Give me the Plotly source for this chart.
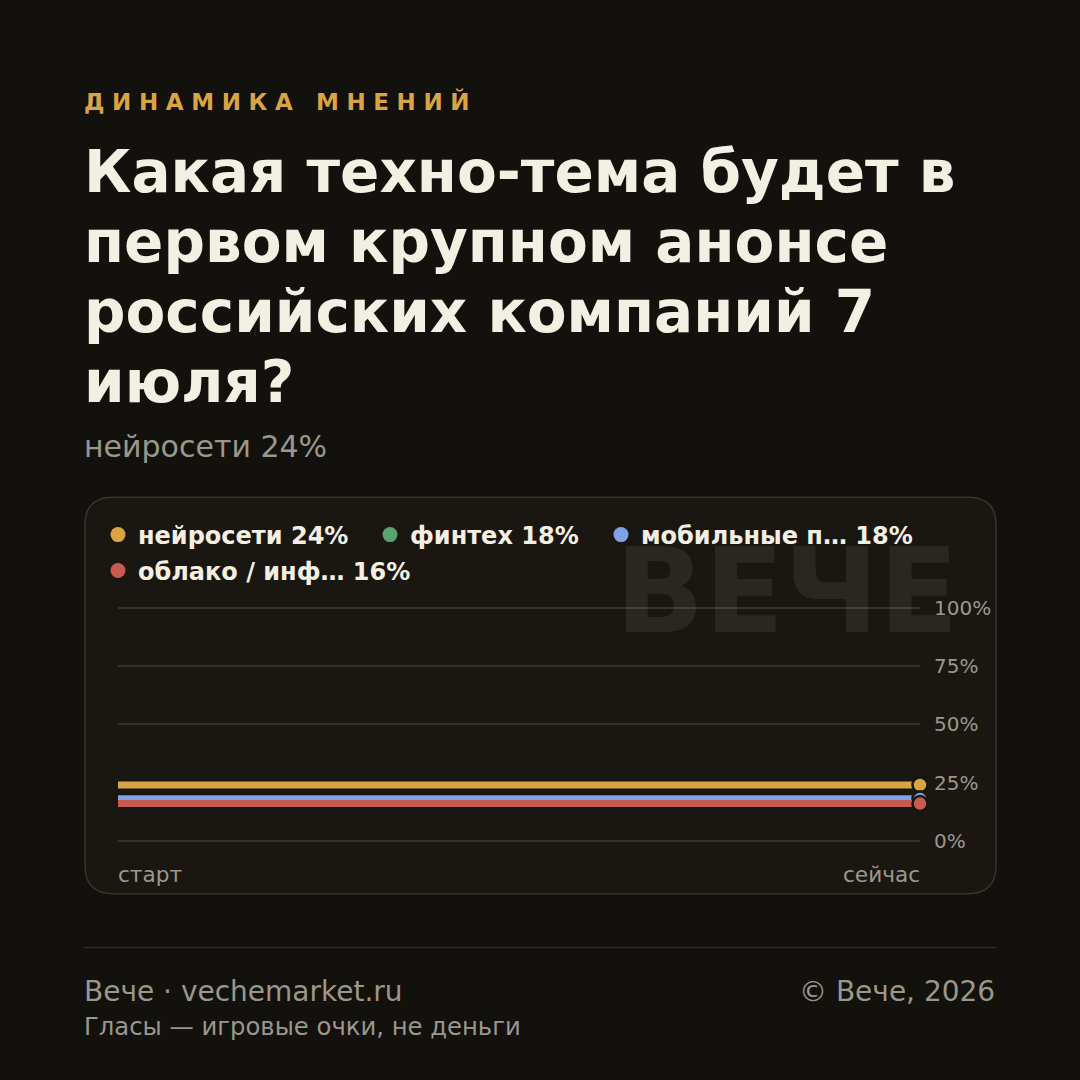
import plotly.graph_objects as go

# ---- data ----
categories = ["нейросети", "финтех", "мобильные п…", "облако / инф…"]
values_pct = [24, 18, 18, 16]
x_points = [0, 1]
x_labels = ["старт", "сейчас"]
series_colors = ["#d9a441", "#5aa36e", "#7fa3e3", "#c75b4e"]
y_ticks = [0, 25, 50, 75, 100]
y_tick_labels = ["0%", "25%", "50%", "75%", "100%"]

kicker = "ДИНАМИКА МНЕНИЙ"
title_lines = ["Какая техно-тема будет в", "первом крупном анонсе",
               "российских компаний 7", "июля?"]
subtitle = "нейросети 24%"
footer_left = "Вече · vechemarket.ru"
footer_right = "© Вече, 2026"
footer_note = "Гласы — игровые очки, не деньги"
watermark = "ВЕЧЕ"

W = H = 1080
BG = "#12110e"
CARD = "#1a1713"
CARD_BORDER = "#38332b"
GRID = "#36322b"
TEXT = "#f3efe2"
GRAY = "#9b978b"
FONT = "DejaVu Sans"


def px(x):
    return x / W


def py(y):
    return 1 - y / H


fig = go.Figure()

# series lines with end markers
for name, v, c in zip(categories, values_pct, series_colors):
    fig.add_trace(go.Scatter(
        x=x_points, y=[v] * len(x_points), mode="lines+markers",
        line=dict(color=c, width=7),
        marker=dict(size=15, color=c, opacity=[0, 1],
                    line=dict(color=CARD, width=2.5)),
        cliponaxis=False, showlegend=False, hoverinfo="skip",
    ))

# legend entries (one legend each for precise placement)
legend_pos = [(121, 535), (393, 535), (624, 535), (121, 571)]
legend_keys = ["legend", "legend2", "legend3", "legend4"]
for name, v, c, key in zip(categories, values_pct, series_colors, legend_keys):
    fig.add_trace(go.Scatter(
        x=[None], y=[None], mode="markers",
        marker=dict(size=15, color=c),
        name=f"{name} {v}%", legend=key, showlegend=True,
    ))

legend_layouts = {}
for (cx, cy), key in zip(legend_pos, legend_keys):
    legend_layouts[key] = dict(
        x=px(cx - 23), y=py(cy), xanchor="left", yanchor="middle",
        bgcolor="rgba(0,0,0,0)", borderwidth=0,
        font=dict(family=FONT, size=24, color=TEXT, weight=700),
        itemwidth=30,
    )

# card
x0, x1, y0, y1, r = 85, 996, 497, 895, 28
path = (f"M {px(x0 + r)},{py(y0)} L {px(x1 - r)},{py(y0)} "
        f"Q {px(x1)},{py(y0)} {px(x1)},{py(y0 + r)} "
        f"L {px(x1)},{py(y1 - r)} Q {px(x1)},{py(y1)} {px(x1 - r)},{py(y1)} "
        f"L {px(x0 + r)},{py(y1)} Q {px(x0)},{py(y1)} {px(x0)},{py(y1 - r)} "
        f"L {px(x0)},{py(y0 + r)} Q {px(x0)},{py(y0)} {px(x0 + r)},{py(y0)} Z")
shapes = [
    dict(type="path", path=path, xref="paper", yref="paper",
         fillcolor=CARD, line=dict(color=CARD_BORDER, width=1.5), layer="below"),
    dict(type="line", xref="paper", yref="paper", x0=px(84), x1=px(996),
         y0=py(949), y1=py(949), line=dict(color="#2e2a24", width=1.5)),
]

annotations = []
K = 0.36  # cap-centre offset (em) from baseline


def txt(text, x, y, size, color, weight=400, xanchor="left", xref="paper"):
    annotations.append(dict(
        text=text, x=x, y=y, xref=xref, yref="paper",
        xanchor=xanchor, yanchor="middle", showarrow=False,
        font=dict(family=FONT, size=size, color=color, weight=weight),
    ))


# watermark
txt(watermark, px(961), py(634 - K * 117), 117,
    "rgba(255,245,225,0.07)", 700, "right")

# header
txt(f'<span style="letter-spacing:7.6px">{kicker}</span>', px(82),
    py(108 - K * 23), 23, "#d9a441", 700)
for i, line in enumerate(title_lines):
    txt(line, px(82), py(192 + 70 * i - K * 58), 58, TEXT, 700)
txt(subtitle, px(82), py(457 - K * 30), 30, GRAY)

# x labels
for xv, lab, anc, sh in zip(x_points, x_labels, ["left", "right"], [-2, 2]):
    annotations.append(dict(text=lab, x=xv, xref="x", y=py(884 - K * 21.6),
                            yref="paper", xanchor=anc, yanchor="middle",
                            xshift=sh, showarrow=False,
                            font=dict(family=FONT, size=21.6, color=GRAY)))

# footer
txt(footer_left, px(82), py(1003 - K * 28), 28, GRAY)
txt(footer_right, px(997), py(1003 - K * 28), 28, GRAY, 400, "right")
txt(footer_note, px(82), py(1037 - K * 24.3), 24.3, GRAY)

# y axis: 0 at row 842, 100 at row 608; extend domain slightly so 100% grid shows
Y0_ROW, Y100_ROW = 842, 608
top_row, bot_row = 598, 852
per = (Y0_ROW - Y100_ROW) / 100.0
r_max = (Y0_ROW - top_row) / per
r_min = -(bot_row - Y0_ROW) / per

fig.update_layout(
    width=W, height=H, autosize=False,
    margin=dict(l=0, r=0, t=0, b=0),
    paper_bgcolor=BG, plot_bgcolor="rgba(0,0,0,0)",
    shapes=shapes, annotations=annotations,
    xaxis=dict(domain=[px(118), px(920)], range=[0, 1], showgrid=False,
               zeroline=False, showticklabels=False, fixedrange=True),
    yaxis=dict(domain=[py(bot_row), py(top_row)], range=[r_min, r_max],
               side="right", tickvals=y_ticks, ticktext=y_tick_labels,
               showgrid=True, gridcolor=GRID, gridwidth=1.5, zeroline=False,
               ticklabelstandoff=13,
               tickfont=dict(family=FONT, size=20, color=GRAY)),
    hovermode=False,
    **legend_layouts,
)

fig.write_html(
    "out.html",
    config={"responsive": False, "displayModeBar": False},
    post_script=("document.documentElement.style.margin='0';"
                 "document.body.style.margin='0';"
                 "document.body.style.overflow='hidden';"
                 f"document.body.style.background='{BG}';"),
)
